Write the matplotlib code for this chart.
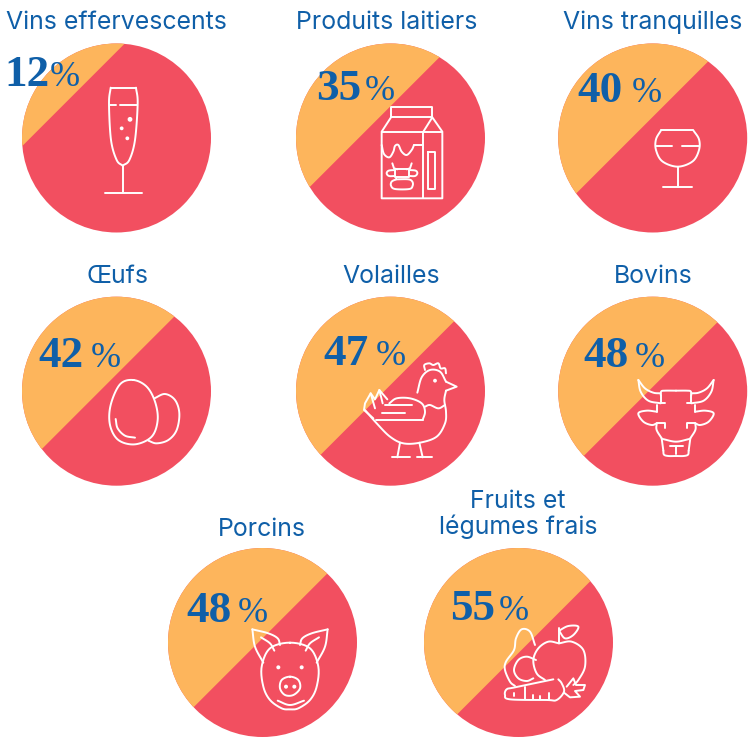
import numpy as np
import matplotlib
matplotlib.use("Agg")
import matplotlib.pyplot as plt
from matplotlib.patches import Circle, Polygon

# ---- data ----
CATEGORIES = ["Vins effervescents", "Produits laitiers", "Vins tranquilles",
              "Œufs", "Volailles", "Bovins",
              "Porcins", "Fruits et\nlégumes frais"]
SHARES = [12, 35, 40, 42, 47, 48, 48, 55]

# ---- layout (pixels, y down) ----
CENTERS_X = [116.5, 390.5, 652.7, 116.5, 390.5, 652.7, 262.5, 518.5]
CENTERS_Y = [138, 138, 138, 391.2, 391.2, 391.2, 642.5, 642.5]
RADIUS = 94.5
TITLE_X = [116.5, 387, 653, 117, 391, 653, 262, 518]
TITLE_Y = [28.5, 28.5, 29, 283, 283, 283, 536, 534]
NUM_X = [4, 316, 577, 38, 323, 583, 186, 450]
NUM_Y = [86, 100, 102, 367, 365, 367, 622, 620]
PCT_X = [50, 365, 632, 91, 376, 635, 238, 499]

ORANGE = "#FDB55C"
RED = "#F24F60"
BLUE = "#0F5FA8"
LW = 1.4

fig = plt.figure(figsize=(7.51, 7.37), dpi=100)
ax = fig.add_axes([0, 0, 1, 1])
ax.set_xlim(0, 751)
ax.set_ylim(737, 0)
ax.axis("off")


def segment_angle(share):
    # central angle of a circular segment covering share % of the disc
    theta = np.linspace(0, 2 * np.pi, 4001)
    frac = (theta - np.sin(theta)) / (2 * np.pi)
    return np.interp(share / 100, frac, theta)


def smooth(pts, closed=False, n=12):
    # Catmull-Rom through the given points
    p = np.array(pts, dtype=float)
    if closed:
        p = np.vstack([p[-1], p, p[0], p[1]])
    else:
        p = np.vstack([2 * p[0] - p[1], p, 2 * p[-1] - p[-2]])
    out = []
    t = np.linspace(0, 1, n, endpoint=False)[:, None]
    for i in range(1, len(p) - 2):
        a, b, c, d = p[i - 1], p[i], p[i + 1], p[i + 2]
        out.append(0.5 * (2 * b + (c - a) * t + (2 * a - 5 * b + 4 * c - d) * t ** 2
                          + (3 * b - a - 3 * c + d) * t ** 3))
    out = np.vstack(out + [p[-2][None]])
    return out


class Icon:
    """Draws white line art given in 3x zoom coordinates of a crop at (ox, oy)."""

    def __init__(self, ox, oy):
        self.ox, self.oy = ox, oy

    def xy(self, pts):
        a = np.array(pts, dtype=float)
        return self.ox + a[:, 0] / 3, self.oy + a[:, 1] / 3

    def line(self, pts):
        x, y = self.xy(pts)
        ax.plot(x, y, color="white", lw=LW, solid_capstyle="round",
                solid_joinstyle="round", zorder=4)

    def curve(self, pts, closed=False):
        self.line(smooth(pts, closed))

    def dot(self, x, y, r):
        ax.add_patch(Circle((self.ox + x / 3, self.oy + y / 3), r, color="white",
                            lw=0, zorder=4))


def draw_flute():
    g = Icon(0, 0)
    g.line([(332, 263), (408, 263)])
    g.curve([(332, 263), (327, 310), (333, 420), (350, 480), (368, 497)])
    g.curve([(408, 263), (413, 310), (405, 420), (388, 480), (368, 497)])
    g.line([(368, 497), (368, 578)])
    g.line([(315, 578), (425, 578)])
    g.line([(330, 314), (348, 314)])
    g.line([(360, 314), (412, 314)])
    g.dot(390, 358, 2.4)
    g.dot(365, 385, 1.9)
    g.dot(382, 415, 1.9)


def draw_milk():
    g = Icon(290, 40)
    g.line([(303, 232), (303, 202), (427, 202), (427, 232), (303, 232)])
    g.line([(303, 232), (275, 275), (275, 475), (457, 475), (457, 275), (427, 232), (400, 275)])
    g.line([(275, 275), (457, 275)])
    g.line([(398, 275), (398, 475)])
    g.line([(415, 335), (435, 335), (435, 447), (415, 447), (415, 335)])
    g.curve([(275, 315), (282, 342), (298, 352), (310, 335), (315, 318), (325, 315),
             (335, 335), (350, 345), (365, 330), (372, 315)])
    g.line([(372, 315), (398, 315)])
    # cow
    g.line([(315, 388), (358, 388)])
    g.line([(315, 388), (315, 410), (358, 410), (358, 388)])
    g.curve([(315, 390), (296, 392), (290, 400), (297, 408), (315, 408)])
    g.curve([(358, 390), (377, 392), (382, 400), (375, 408), (358, 408)])
    g.line([(307, 370), (312, 385), (322, 388)])
    g.line([(365, 370), (360, 385), (350, 388)])
    g.curve([(318, 418), (305, 425), (303, 437), (315, 447), (358, 447), (368, 437),
             (367, 425), (355, 418), (318, 418)])


def draw_wine():
    g = Icon(555, 40)
    g.line([(318, 271), (415, 271)])
    g.curve([(318, 271), (303, 298), (303, 330), (322, 364), (368, 380), (413, 364),
             (432, 330), (432, 298), (415, 271)])
    g.line([(368, 380), (368, 442)])
    g.line([(325, 442), (411, 442)])
    g.line([(303, 318), (352, 318)])
    g.line([(380, 318), (432, 318)])


def draw_eggs():
    g = Icon(20, 295)
    g.curve([(340, 255), (380, 275), (405, 320), (413, 375), (395, 425), (345, 448),
             (295, 435), (270, 390), (272, 330), (300, 268)], closed=True)
    g.curve([(287, 372), (293, 400), (315, 422), (345, 428)])
    g.curve([(403, 310), (435, 297), (465, 315), (478, 355), (470, 405), (445, 435),
             (410, 445), (385, 437)])


def draw_chicken():
    g = Icon(340, 340)
    g.curve([(255, 90), (253, 75), (268, 70), (280, 75), (295, 70), (302, 85), (315, 85), (318, 100)])
    g.curve([(232, 158), (245, 112), (270, 90), (300, 95), (318, 125)])
    g.line([(318, 125), (350, 140), (318, 152)])
    g.curve([(318, 152), (313, 180), (318, 215), (315, 250), (290, 290), (240, 308),
             (190, 310), (150, 290), (110, 250), (75, 210)])
    g.dot(285, 122, 1.9)
    g.curve([(148, 190), (170, 175), (210, 175), (245, 190), (255, 215), (248, 240)])
    g.line([(248, 240), (108, 240)])
    g.line([(135, 195), (215, 195)])
    g.line([(125, 218), (195, 218)])
    g.curve([(255, 200), (270, 195), (295, 205), (315, 195)])
    g.line([(142, 178), (118, 150), (105, 178), (92, 160), (75, 190), (72, 210), (100, 235)])
    g.line([(118, 150), (128, 190)])
    g.line([(92, 160), (105, 205)])
    g.line([(180, 308), (172, 352)])
    g.line([(155, 352), (210, 352)])
    g.line([(238, 308), (248, 352)])
    g.line([(230, 352), (275, 352)])


def draw_bull():
    g = Icon(620, 360)
    for m in (0, 1):
        f = (lambda p: [(336 - x, y) for x, y in p]) if m else (lambda p: p)
        g.curve(f([(55, 60), (62, 95), (85, 122), (122, 130)]))
        g.curve(f([(55, 60), (75, 85), (100, 98), (122, 100)]))
        g.line(f([(122, 105), (122, 130), (135, 130)]))
        g.line(f([(110, 135), (110, 155)]))
        g.curve(f([(110, 155), (80, 152), (55, 160), (70, 185), (95, 195), (110, 190)]))
        g.line(f([(110, 190), (135, 190), (135, 205)]))
        g.curve(f([(110, 190), (110, 210), (125, 235)]))
        g.line(f([(125, 235), (130, 272)]))
        g.curve(f([(130, 272), (132, 284), (145, 288), (168, 288)]))
        g.curve(f([(122, 105), (124, 94), (135, 92), (168, 92)]))
    g.curve([(128, 237), (168, 245), (208, 237)])
    g.line([(150, 258), (188, 258)])
    g.line([(168, 258), (168, 282)])


def draw_pig():
    g = Icon(235, 610)
    for m in (0, 1):
        f = (lambda p: [(330 - x, y) for x, y in p]) if m else (lambda p: p)
        g.curve(f([(52, 58), (60, 110), (85, 158)]))
        g.curve(f([(52, 58), (100, 70), (128, 85), (135, 105)]))
        g.curve(f([(78, 82), (105, 100), (118, 122)]))
    g.curve([(165, 98), (225, 115), (250, 170), (245, 230), (225, 270), (190, 295),
             (165, 298), (140, 295), (105, 270), (85, 230), (80, 170), (105, 115)], closed=True)
    g.dot(130, 172, 2)
    g.dot(200, 172, 2)
    g.curve([(165, 200), (190, 210), (195, 235), (175, 255), (150, 255), (135, 235), (140, 210)], closed=True)
    g.dot(153, 230, 2)
    g.dot(178, 230, 2)
    g.curve([(128, 272), (165, 285), (207, 272)])


def draw_fruit():
    g = Icon(490, 610)
    g.curve([(135, 105), (120, 65), (95, 58), (78, 85), (72, 120), (48, 155), (45, 180), (60, 215), (75, 228)])
    g.curve([(138, 150), (110, 140), (85, 150), (72, 180), (85, 205), (110, 213), (130, 205)])
    g.curve([(207, 100), (175, 95), (145, 115), (130, 150), (140, 190), (165, 210)])
    g.curve([(207, 100), (245, 95), (280, 120), (285, 170), (265, 210), (250, 225)])
    g.line([(207, 100), (207, 55)])
    g.curve([(207, 62), (235, 48), (265, 50), (250, 75), (225, 85), (207, 62)])
    g.curve([(190, 208), (75, 232), (50, 238), (45, 255), (60, 268), (170, 270), (200, 270),
             (222, 245), (215, 220), (205, 208)])
    g.line([(230, 230), (250, 205), (258, 225), (285, 225), (280, 240), (255, 243),
            (270, 260), (240, 262), (222, 248)])
    g.line([(105, 232), (105, 268)])
    g.line([(73, 248), (73, 258)])
    g.line([(130, 255), (130, 268)])
    g.line([(150, 258), (150, 268)])
    g.line([(178, 250), (178, 268)])


ICONS = [draw_flute, draw_milk, draw_wine, draw_eggs, draw_chicken, draw_bull, draw_pig, draw_fruit]

for i, share in enumerate(SHARES):
    cx, cy = CENTERS_X[i], CENTERS_Y[i]
    ax.add_patch(Circle((cx, cy), RADIUS, facecolor=RED, edgecolor="none", zorder=1))
    half = segment_angle(share) / 2
    a = np.radians(225) + np.linspace(-half, half, 200)
    seg = np.column_stack([cx + RADIUS * np.cos(a), cy + RADIUS * np.sin(a)])
    ax.add_patch(Polygon(seg, closed=True, facecolor=ORANGE, edgecolor="none", zorder=2))

    lines = CATEGORIES[i].split("\n")
    for k, line in enumerate(reversed(lines)):
        ax.text(TITLE_X[i], TITLE_Y[i] - 26 * k, line, ha="center", va="baseline",
                fontsize=17.9, color=BLUE, family="Inter", zorder=5)

    ax.text(NUM_X[i], NUM_Y[i], str(share), ha="left", va="baseline", fontsize=32.5,
            fontweight="bold", family="Liberation Serif", color=BLUE, zorder=5)
    ax.text(PCT_X[i], NUM_Y[i], "%", ha="left", va="baseline", fontsize=26,
            family="Liberation Serif", color=BLUE, zorder=5)
    ICONS[i]()

fig.savefig("out.png", dpi=100)
